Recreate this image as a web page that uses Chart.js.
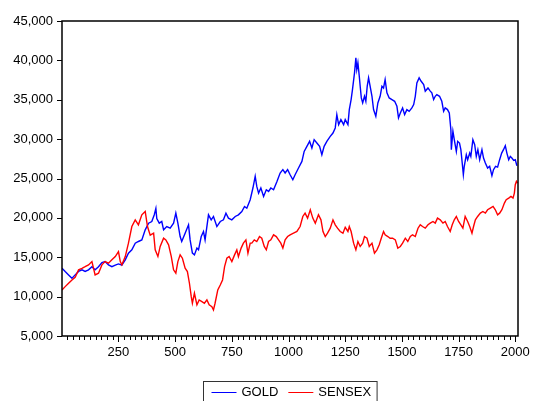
<!DOCTYPE html>
<html>
<head>
<meta charset="utf-8">
<script src="https://cdn.jsdelivr.net/npm/chart.js@4"></script>
<style>
html, body { margin: 0; padding: 0; background: #fff; }
#box { position: relative; width: 534px; height: 401px; }
</style>
</head>
<body>
<div id="box"><canvas id="c" width="534" height="401"></canvas></div>
<script>
const goldObs = [1,15,30,45,59,74,89,103,118,133,147,162,177,191,206,221,236,250,265,280,294,309,324,338,353,368,383,397,408,415,419,430,441,449,463,478,493,503,512,522,529,544,559,566,576,585,596,603,615,625,632,647,659,669,684,699,713,724,735,750,765,779,794,806,816,831,843,853,860,868,878,890,902,912,922,934,949,963,975,985,996,1007,1019,1029,1044,1059,1069,1081,1093,1103,1113,1125,1137,1147,1157,1169,1184,1196,1206,1213,1221,1231,1243,1250,1262,1268,1276,1282,1291,1297,1301,1306,1312,1316,1321,1327,1335,1341,1347,1353,1360,1368,1375,1385,1394,1404,1412,1419,1426,1434,1444,1456,1468,1478,1485,1493,1503,1512,1522,1532,1544,1552,1559,1566,1576,1585,1596,1603,1615,1625,1632,1640,1647,1654,1666,1676,1684,1691,1701,1709,1716,1718,1725,1731,1740,1746,1754,1760,1766,1771,1775,1784,1790,1799,1804,1813,1821,1828,1835,1843,1853,1860,1868,1878,1887,1897,1904,1913,1922,1931,1940,1948,1956,1963,1971,1978,1985,1993,2000,2007];
const goldVals = [13600,13180,12760,12340,12760,13200,13400,13200,13400,13800,13400,13800,14320,14450,14030,13800,14000,14150,14000,14670,15520,15940,16790,17000,17200,18480,19330,19540,20400,21200,19900,19330,19540,18480,18900,18690,19330,20600,19330,17630,17000,18060,19120,17200,15520,15300,16160,15950,17630,18270,17200,20390,19750,20180,18900,19540,19750,20600,19970,19750,20180,20390,20810,21450,21230,22300,23790,25270,23990,23150,23790,22720,23570,23360,23790,23570,24630,25700,26120,25700,26120,25480,24840,25480,26330,27170,28440,29080,29720,28870,29930,29500,29080,28020,29080,29720,30350,30770,31420,33110,31840,32480,31840,32480,31840,33750,35020,36290,38410,40320,38840,39690,37990,36710,35230,34600,35440,34800,36710,37780,36710,35440,33750,32900,34600,35440,36710,36500,37560,35870,35230,35020,34800,34170,32690,33320,33960,33110,33750,33530,33960,34380,35440,37140,37780,37350,36920,36080,36500,36100,35870,35020,35440,35650,35440,34800,33530,33960,33750,33320,31200,28660,31000,29930,28450,29720,29500,28660,26970,25480,26550,28020,27390,28230,27810,29930,29290,27810,28660,27390,28660,27600,26970,26330,26550,25350,26120,26550,26450,27390,28230,28660,29170,28230,27390,27810,27600,27300,27390,26620];

const sensexObs = [1,15,30,45,59,74,89,103,118,133,147,162,177,191,206,221,236,250,258,265,280,294,309,324,338,353,368,378,390,405,412,424,434,449,459,471,483,493,503,512,522,532,544,554,563,571,576,585,596,606,618,629,640,650,662,669,676,688,699,709,718,728,738,750,762,772,779,791,801,812,821,831,838,849,860,872,882,893,902,912,922,934,946,956,966,975,985,996,1007,1022,1037,1051,1063,1073,1084,1096,1107,1118,1132,1143,1152,1162,1172,1184,1196,1206,1216,1228,1240,1250,1262,1268,1276,1287,1297,1306,1316,1327,1335,1346,1356,1368,1379,1390,1400,1409,1419,1426,1438,1448,1459,1471,1482,1493,1503,1515,1526,1537,1547,1559,1571,1581,1591,1603,1615,1625,1637,1647,1657,1669,1681,1691,1701,1713,1722,1731,1740,1750,1760,1769,1779,1790,1799,1809,1816,1824,1834,1846,1857,1868,1878,1890,1902,1912,1922,1931,1941,1952,1960,1971,1981,1990,1996,2000,2005,2010];
const sensexVals = [10850,11270,11700,12120,12460,13400,13600,13800,14030,14450,12760,12980,14030,14450,14240,14670,15090,15720,14450,14030,15090,16790,18900,19750,19120,20390,20810,18900,17800,18050,15940,15090,16370,17420,17200,16580,15090,13400,12970,14450,15300,14880,13610,13180,11700,10000,9160,10430,8950,9580,9370,9160,9580,8950,8730,8310,9160,10850,11480,12120,13820,14880,15090,14450,15300,15940,15090,16160,16790,17200,15520,16790,16790,17210,17000,17630,17420,16370,15940,17000,17210,17850,17630,17210,16790,16160,17210,17630,17850,18060,18270,18900,20180,20600,19970,21030,19970,19330,20390,19750,18270,17630,18060,18690,19750,19120,18690,18270,18060,18800,18270,18900,18270,16790,15940,17000,16370,16790,17630,17420,16370,16790,15520,15940,16580,17420,18270,17850,17630,17420,17420,17210,16160,16370,16790,17420,17000,17630,17850,17630,18690,19120,18900,18690,19120,19330,19540,19330,19970,19750,19330,19540,18900,18270,19120,19750,20180,19540,19120,18690,20180,19540,18900,18060,18900,19750,20180,20600,20810,20600,21030,21240,21450,21030,20390,20600,21030,21880,22300,22510,22720,22510,23150,24210,24630,24420];

const xTickLabels = [250,500,750,1000,1250,1500,1750,2000];
const yTicks = [5000,10000,15000,20000,25000,30000,35000,40000,45000];
const seriesNames = ['GOLD','SENSEX'];
const seriesColors = ['#0000ff','#ff0000'];

const pts = (xs, ys) => xs.map((x, i) => ({ x, y: ys[i] }));
const fmt = v => String(v).replace(/\B(?=(\d{3})+(?!\d))/g, ',');
const FONT = '"Liberation Sans", Arial, sans-serif';

Chart.defaults.font.family = FONT;
Chart.defaults.font.size = 13;
Chart.defaults.color = '#000';

// frame, tick marks and the boxed legend (EViews look)
const frame = {
	id: 'frame',
	afterDatasetsDraw(ch) {
		const { ctx, chartArea: a, scales: { x, y } } = ch;
		ctx.save();
		ctx.strokeStyle = '#000';
		ctx.lineWidth = 1;
		ctx.beginPath();
		yTicks.forEach(v => {
			const p = Math.round(y.getPixelForValue(v)) + 0.5;
			ctx.moveTo(a.left - 5, p); ctx.lineTo(a.left, p);
		});
		for (let v = 25; v <= 2000; v += 25) {
			const p = Math.round(x.getPixelForValue(v)) + 0.5;
			ctx.moveTo(p, a.bottom); ctx.lineTo(p, a.bottom + (v % 250 ? 4 : 6));
		}
		ctx.stroke();
		ctx.lineWidth = 1.5;
		ctx.strokeRect(a.left, a.top, a.right - a.left, a.bottom - a.top);

		ctx.font = '13px ' + FONT;
		const ws = seriesNames.map(s => ctx.measureText(s).width);
		const lineLen = 25, gap = 5, itemGap = 10, padL = 8, padR = 6;
		const total = padL + padR + ws.reduce((s, w) => s + lineLen + gap + w, 0) + itemGap * (ws.length - 1);
		const left = Math.round((a.left + a.right) / 2 - total / 2) + 0.5;
		const top = ch.height - 19.5, mid = ch.height - 8.5;
		ctx.lineWidth = 1;
		ctx.strokeStyle = '#333';
		ctx.strokeRect(left, top, total, 30);
		let cx = left + padL;
		ctx.textBaseline = 'middle';
		ctx.fillStyle = '#000';
		seriesNames.forEach((s, i) => {
			ctx.strokeStyle = seriesColors[i];
			ctx.beginPath(); ctx.moveTo(cx, mid); ctx.lineTo(cx + lineLen, mid); ctx.stroke();
			cx += lineLen + gap;
			ctx.fillText(s, cx, mid);
			cx += ws[i] + itemGap;
		});
		ctx.restore();
	}
};

new Chart(document.getElementById('c'), {
	type: 'line',
	data: {
		datasets: [
			{ label: seriesNames[0], data: pts(goldObs, goldVals), borderColor: seriesColors[0], order: 1 },
			{ label: seriesNames[1], data: pts(sensexObs, sensexVals), borderColor: seriesColors[1], order: 0 }
		]
	},
	options: {
		responsive: false,
		animation: false,
		devicePixelRatio: 1,
		elements: { point: { radius: 0 }, line: { borderWidth: 1.4, tension: 0 } },
		layout: { padding: { top: 21, right: 16, left: 0, bottom: 35 } },
		plugins: { legend: { display: false }, tooltip: { enabled: false } },
		scales: {
			x: {
				type: 'linear', min: 1, max: 2012,
				afterBuildTicks: s => { s.ticks = xTickLabels.map(value => ({ value })) },
				afterFit: s => { s.height = 30 },
				grid: { display: false, drawTicks: true, tickLength: 6 },
				border: { display: false },
				ticks: { padding: 3, maxRotation: 0, autoSkip: false, callback: v => String(v) }
			},
			y: {
				min: 5000, max: 45000,
				afterBuildTicks: s => { s.ticks = yTicks.map(value => ({ value })) },
				afterFit: s => { s.width = 62 },
				grid: { display: false, drawTicks: true, tickLength: 5 },
				border: { display: false },
				ticks: { padding: 4, callback: v => fmt(v) }
			}
		}
	},
	plugins: [frame]
});
</script>
</body>
</html>
